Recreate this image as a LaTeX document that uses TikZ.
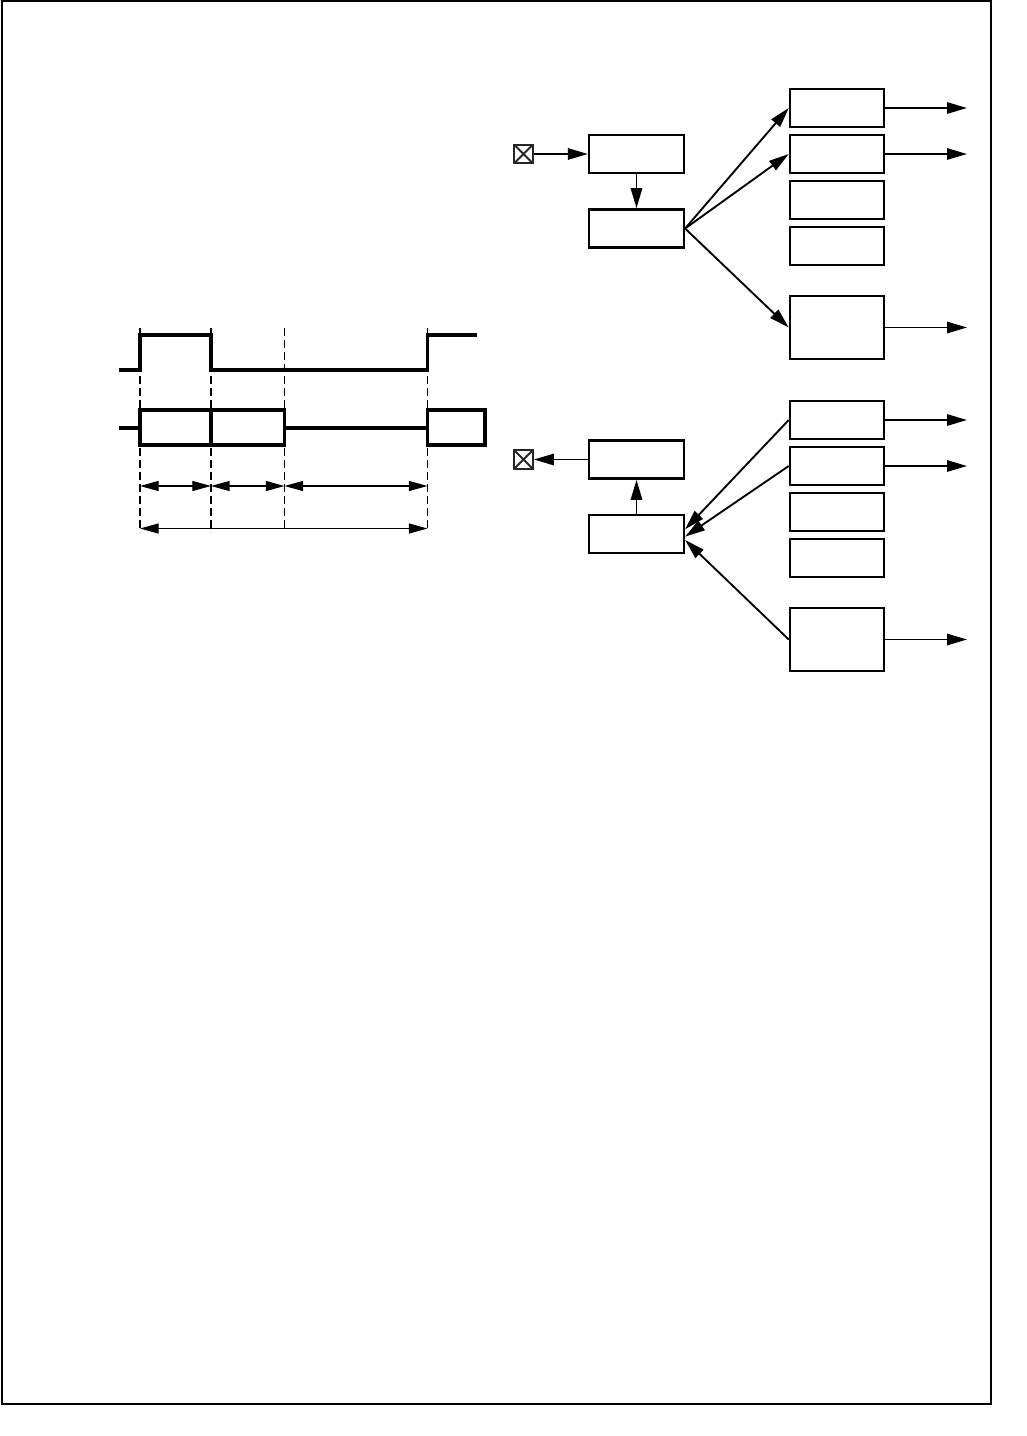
\documentclass[tikz,border=0pt]{standalone}
\usetikzlibrary{arrows.meta}
\begin{document}
\begin{tikzpicture}[x=0.75pt,y=-0.75pt,
  blk/.style={draw,line width=1.9pt,inner sep=0pt,minimum width=71pt,minimum height=28.5pt},
  blkr/.style={blk,minimum width=70.5pt},
  tall/.style={blkr,minimum height=47pt},
  xbox/.style={draw=black!85,line width=1.6pt,inner sep=0pt,minimum size=14pt,
    path picture={\draw[line width=1.4pt] (path picture bounding box.south west)--(path picture bounding box.north east)
      (path picture bounding box.north west)--(path picture bounding box.south east);}},
  conn/.style={line width=1.4pt,-{Triangle[length=15pt,width=8.5pt]}},
  dim/.style={line width=0.9pt,{Triangle[length=14pt,width=7.5pt]}-{Triangle[length=14pt,width=7.5pt]}},
  wave/.style={line width=2.9pt},
  slot/.style={line width=2.7pt},
  guide/.style={line width=0.8pt,dash pattern=on 6pt off 3pt}]
\useasboundingbox (0,0) rectangle (1027,1436);
\draw[line width=1.3pt] (2,1) rectangle (991,1404);

% upper chain
\node[xbox] (x1) at (523.5,154) {};
\node[blk] (a) at (636.5,154) {};
\node[blk] (b) at (636.5,228.5) {};
\node[blkr] (r1) at (837,108) {};
\node[blkr] (r2) at (837,154) {};
\node[blkr] (r3) at (837,200) {};
\node[blkr] (r4) at (837,246) {};
\node[tall] (r5) at (837,327.5) {};
\coordinate (o1) at (967,108);
\coordinate (o2) at (967,154);
\coordinate (o5) at (967,327.5);
\draw[conn] (x1) -- (a);
\draw[conn] (a) -- (b);
\draw[conn] (b.east) -- (r1.west);
\draw[conn] (b.east) -- (r2.west);
\draw[conn] (b.east) -- (r5.west);
\draw[conn] (r1.east) -- (o1);
\draw[conn] (r2.east) -- (o2);
\draw[conn] (r5.east) -- (o5);

% lower chain
\node[xbox] (x2) at (523.5,459.5) {};
\node[blk] (c) at (636.5,459.5) {};
\node[blk] (d) at (636.5,534) {};
\node[blkr] (s1) at (837,420) {};
\node[blkr] (s2) at (837,466) {};
\node[blkr] (s3) at (837,512) {};
\node[blkr] (s4) at (837,558) {};
\node[tall] (s5) at (837,639.5) {};
\coordinate (p1) at (967,420);
\coordinate (p2) at (967,466);
\coordinate (p5) at (967,639.5);
\draw[conn] (c) -- (x2);
\draw[conn] (d) -- (c);
\draw[conn] (s1.west) -- ([yshift=3.5pt]d.east);
\draw[conn] (s2.west) -- ([yshift=-2pt]d.east);
\draw[conn] (s5.west) -- ([yshift=-4.5pt]d.east);
\draw[conn] (s1.east) -- (p1);
\draw[conn] (s2.east) -- (p2);
\draw[conn] (s5.east) -- (p5);

% timing diagram
\coordinate (t0) at (140,0);
\coordinate (t1) at (211,0);
\coordinate (t2) at (284.5,0);
\coordinate (t3) at (427.5,0);
\foreach \t in {t0,t1,t2,t3}
  \draw[guide] (\t |- 0,328) -- (\t |- 0,532);
\draw[wave] (119,370) -- (140,370) -- (140,335) -- (211,335) -- (211,370) -- (427.5,370) -- (427.5,335) -- (477,335);
\draw[slot] (119,428) -- (140,428);
\draw[slot] (140,410) rectangle (211,445);
\draw[slot] (211,410) rectangle (284.5,445);
\draw[slot] (284.5,428) -- (427.5,428);
\draw[slot] (427.5,410) rectangle (485,445);
\draw[dim] (t0 |- 0,486) -- (t1 |- 0,486);
\draw[dim] (t1 |- 0,486) -- (t2 |- 0,486);
\draw[dim] (t2 |- 0,486) -- (t3 |- 0,486);
\draw[dim] (t0 |- 0,528.5) -- (t3 |- 0,528.5);
\end{tikzpicture}
\end{document}
